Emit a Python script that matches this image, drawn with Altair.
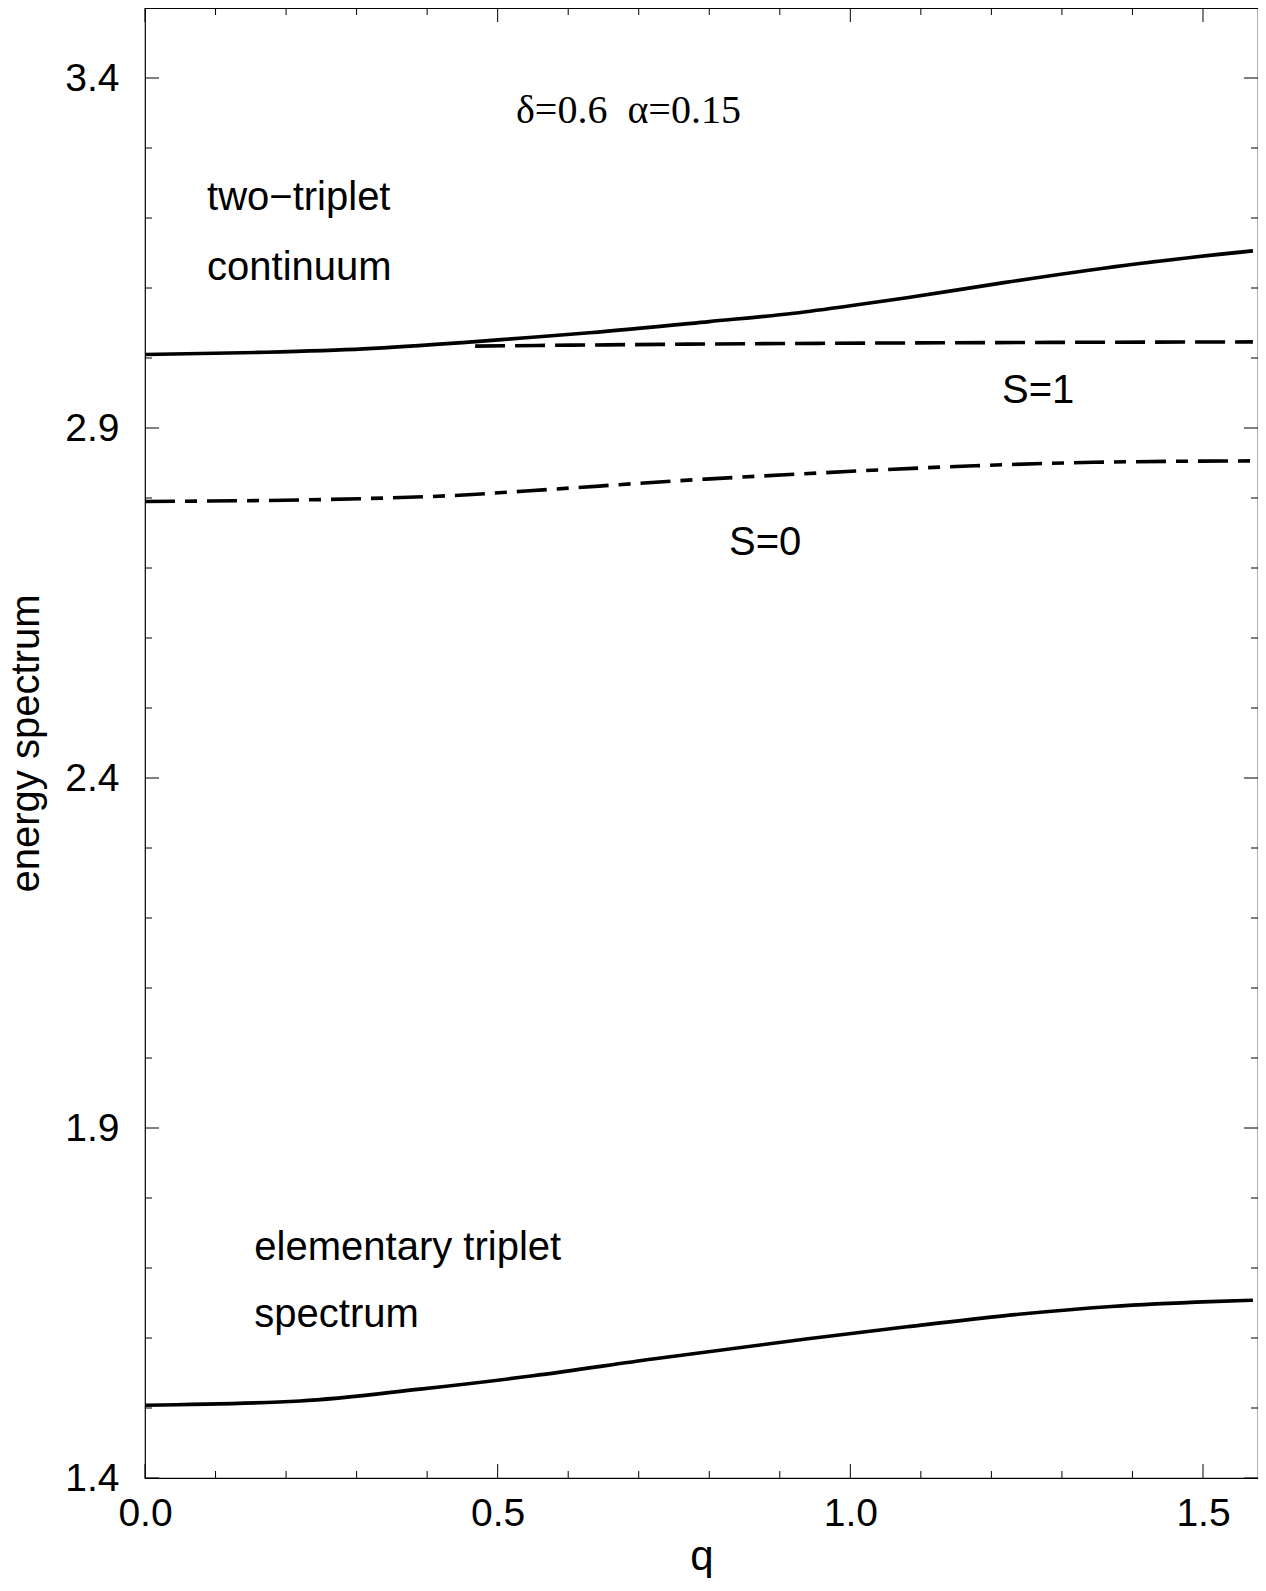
import altair as alt
import pandas as pd

# ---- data ----
q_triplet = [0.0, 0.22, 0.39, 0.55, 0.72, 0.94, 1.08, 1.22, 1.37, 1.51, 1.5708]
e_triplet = [1.504, 1.510, 1.527, 1.546, 1.570, 1.599, 1.616, 1.632, 1.645, 1.652, 1.654]

q_cont = [0.0, 0.16, 0.31, 0.45, 0.54, 0.63, 0.80, 0.92, 1.01, 1.08, 1.22, 1.41, 1.5708]
e_cont = [3.005, 3.008, 3.013, 3.022, 3.029, 3.036, 3.052, 3.064, 3.076, 3.086, 3.108, 3.135, 3.153]

q_s1 = [0.468, 0.8, 1.2, 1.5708]
e_s1 = [3.017, 3.020, 3.022, 3.023]

q_s0 = [0.0, 0.305, 0.446, 0.54, 0.795, 0.922, 1.176, 1.345, 1.5708]
e_s0 = [2.795, 2.799, 2.804, 2.810, 2.827, 2.834, 2.846, 2.851, 2.853]

ann_labels = ["two\u2212triplet", "continuum", "S=1", "S=0", "elementary triplet", "spectrum"]
ann_q = [0.088, 0.088, 1.215, 0.828, 0.155, 0.155]
ann_e = [3.211, 3.111, 2.936, 2.719, 1.711, 1.616]

param_label = ["\u03b4=0.6\u00a0\u00a0\u03b1=0.15"]
param_q = [0.526]
param_e = [3.336]

x_major = [0.0, 0.5, 1.0, 1.5]
x_minor = [0.1, 0.2, 0.3, 0.4, 0.6, 0.7, 0.8, 0.9, 1.1, 1.2, 1.3, 1.4]
y_major = [1.4, 1.9, 2.4, 2.9, 3.4]
y_minor = [1.5, 1.6, 1.7, 1.8, 2.0, 2.1, 2.2, 2.3, 2.5, 2.6, 2.7, 2.8, 3.0, 3.1, 3.2, 3.3]

W, H = 1113, 1470
MAJ, MIN = 14, 7

xs = alt.Scale(domain=[0, 1.578], nice=False, zero=False)
ys = alt.Scale(domain=[1.4, 3.5], nice=False, zero=False)

xax = alt.Axis(values=x_major, format=".1f", title="q", grid=False, ticks=False, domain=False,
               labelFont="Liberation Sans", labelFontSize=39, labelColor="black", labelPadding=16,
               titleFont="Liberation Sans", titleFontSize=42, titleFontWeight="normal",
               titleColor="black", titlePadding=3, labelFlush=False)
yax = alt.Axis(values=y_major, format=".1f", title="energy spectrum", grid=False, ticks=False,
               domain=False, labelFont="Liberation Sans", labelFontSize=39, labelColor="black",
               labelPadding=26, titleFont="Liberation Sans", titleFontSize=40,
               titleFontWeight="normal", titleColor="black", titlePadding=18, labelFlush=False)

X = lambda: alt.X("q:Q", scale=xs, axis=xax)
Y = lambda: alt.Y("E:Q", scale=ys, axis=yax)


def curve(qv, ev, dash=None):
    df = pd.DataFrame({"q": qv, "E": ev})
    kw = dict(color="black", strokeWidth=3.6, interpolate="monotone")
    if dash:
        kw["strokeDash"] = dash
    return alt.Chart(df).mark_line(**kw).encode(x=X(), y=Y())


layers = [
    curve(q_triplet, e_triplet),
    curve(q_cont, e_cont),
    curve(q_s1, e_s1, dash=[30, 10]),
    curve(q_s0, e_s0, dash=[30, 10, 12, 10]),
]


# inward ticks on all four sides
def xticks(vals, length):
    df = pd.DataFrame({"q": vals})
    bot = alt.Chart(df).mark_rule(color="black", strokeWidth=1).encode(
        x=X(), y=alt.value(H), y2=alt.value(H - length))
    top = alt.Chart(df).mark_rule(color="black", strokeWidth=1).encode(
        x=X(), y=alt.value(0), y2=alt.value(length))
    return [bot, top]


def yticks(vals, length):
    df = pd.DataFrame({"E": vals})
    left = alt.Chart(df).mark_rule(color="black", strokeWidth=1).encode(
        y=Y(), x=alt.value(0), x2=alt.value(length))
    right = alt.Chart(df).mark_rule(color="black", strokeWidth=1).encode(
        y=Y(), x=alt.value(W - length), x2=alt.value(W))
    return [left, right]


layers += xticks(x_major, MAJ) + xticks(x_minor, MIN) + yticks(y_major, MAJ) + yticks(y_minor, MIN)

ann_df = pd.DataFrame({"q": ann_q, "E": ann_e, "label": ann_labels})
layers.append(
    alt.Chart(ann_df).mark_text(align="left", baseline="alphabetic", font="Liberation Sans",
                                fontSize=40, color="black").encode(x=X(), y=Y(), text="label:N")
)
par_df = pd.DataFrame({"q": param_q, "E": param_e, "label": param_label})
layers.append(
    alt.Chart(par_df).mark_text(align="left", baseline="alphabetic", font="Liberation Serif",
                                fontSize=40, color="black").encode(x=X(), y=Y(), text="label:N")
)

chart = alt.layer(*layers).properties(
    width=W, height=H,
    background="white",
    autosize=alt.AutoSizeParams(type="none"),
    padding={"left": 137, "top": 0, "right": 0, "bottom": 100},
).configure_view(stroke="black", strokeWidth=1.2)

chart.save("out.html", embed_options={"renderer": "svg", "actions": False})
